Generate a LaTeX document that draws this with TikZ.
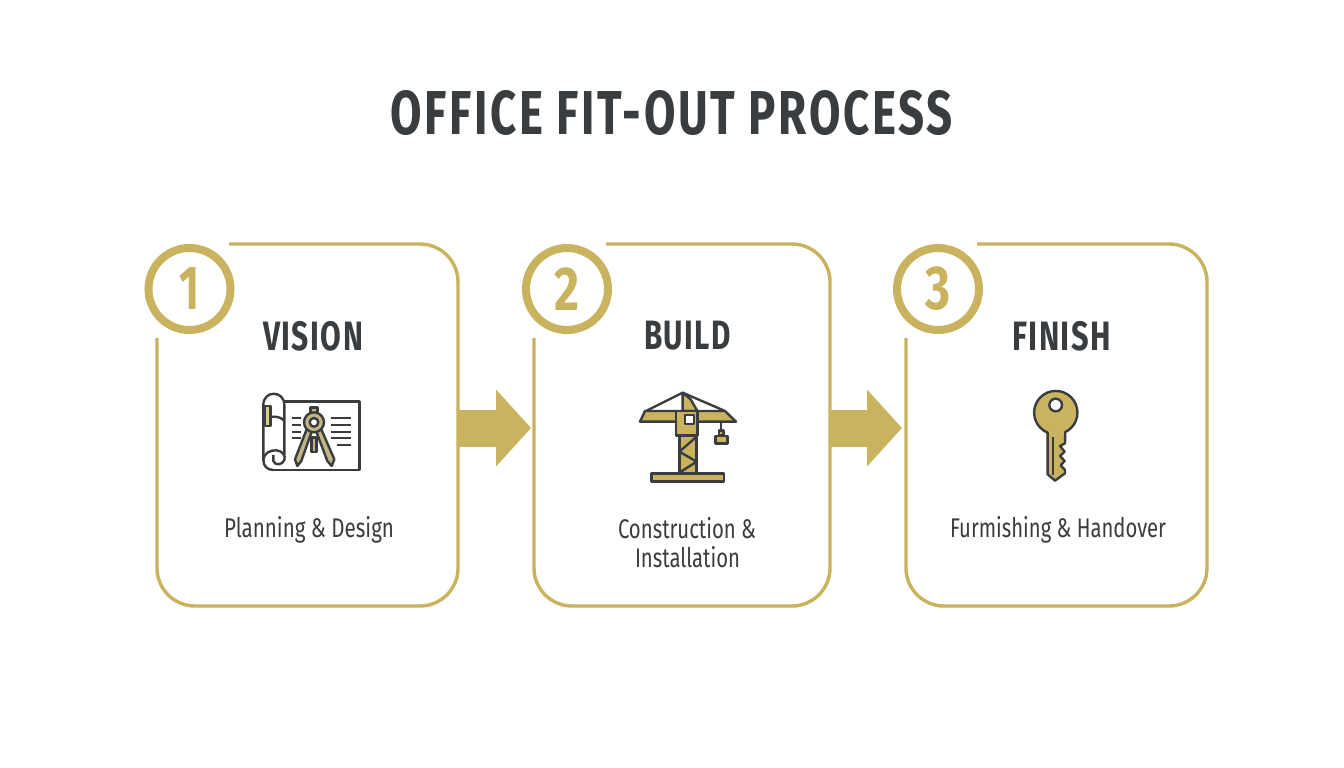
\documentclass[tikz,border=0pt]{standalone}
\usepackage{fontspec}
\usepackage{graphicx}
\usepackage{xcolor}
\setmainfont{Fira Sans}
\usetikzlibrary{arrows.meta}
\definecolor{gold}{HTML}{C9B35F}
\definecolor{ink}{HTML}{3A3D40}
\definecolor{pale}{HTML}{C2B584}
\definecolor{tape}{HTML}{D6CF7E}
\newcommand{\fitw}[2]{\resizebox{#1pt}{\height}{#2}}
\tikzset{
  cardline/.style={draw=gold,line width=3.4pt,line join=round},
  cardbox/.style={rectangle,inner sep=0pt,outer sep=0pt},
  ring/.style={circle,draw=gold,line width=8pt,fill=white,minimum size=82pt,inner sep=0pt,outer sep=0pt},
  numtxt/.style={font=\fontsize{62}{62}\selectfont\bfseries,text=gold,inner sep=0pt},
  headtxt/.style={font=\fontsize{41}{41}\selectfont\bfseries\addfontfeature{LetterSpace=5},text=ink,inner sep=0pt},
  subtxt/.style={font=\fontsize{27}{27}\selectfont,text=ink,inner sep=0pt},
  titletxt/.style={font=\fontsize{62}{62}\selectfont\bfseries\addfontfeature{LetterSpace=6},text=ink,inner sep=0pt},
  flow/.style={draw=gold,line width=37pt,-{Triangle[length=35pt,width=75pt]}},
  ic/.style={draw=ink,line width=2.4pt,line join=round},
  icthin/.style={draw=ink,line width=2pt,line cap=butt},
}
\begin{document}
\begin{tikzpicture}[x=1pt,y=-1pt]
\useasboundingbox (0,0) rectangle (1344,768);
\fill[white] (0,0) rectangle (1344,768);

\node[titletxt] (title) at (671.5,113) {\fitw{563}{OFFICE FIT-OUT PROCESS}};

% cards
\node[cardbox,minimum width=301pt,minimum height=362pt] (card1) at (307.5,425) {};
\node[cardbox,minimum width=296pt,minimum height=362pt] (card2) at (682,425) {};
\node[cardbox,minimum width=301pt,minimum height=362pt] (card3) at (1056.5,425) {};
\draw[cardline] (229,244) -- (420,244) arc[start angle=-90,end angle=0,radius=38] -- (458,568)
  arc[start angle=0,end angle=90,radius=38] -- (195,606) arc[start angle=90,end angle=180,radius=38] -- (157,338);
\draw[cardline] (606,244) -- (792,244) arc[start angle=-90,end angle=0,radius=38] -- (830,568)
  arc[start angle=0,end angle=90,radius=38] -- (572,606) arc[start angle=90,end angle=180,radius=38] -- (534,338);
\draw[cardline] (977,244) -- (1169,244) arc[start angle=-90,end angle=0,radius=38] -- (1207,568)
  arc[start angle=0,end angle=90,radius=38] -- (944,606) arc[start angle=90,end angle=180,radius=38] -- (906,338);

% rings
\node[ring] (r1) at (189.5,289) {};
\node[ring] (r2) at (567,289) {};
\node[ring] (r3) at (938,289) {};
\node[numtxt] (n1) at (r1) {\fitw{20}{1}};
\node[numtxt] (n2) at (r2) {\fitw{25}{2}};
\node[numtxt] (n3) at (r3) {\fitw{25}{3}};

% arrows
\draw[flow,shorten >=3pt] ([yshift=-3pt]card1.east) -- ([yshift=-3pt]card2.west);
\draw[flow,shorten >=4pt] ([yshift=-3pt]card2.east) -- ([yshift=-3pt]card3.west);

% headings
\node[headtxt] (h1) at (313,336) {\fitw{100}{VISION}};
\node[headtxt] (h2) at (687.5,336) {\fitw{87}{BUILD}};
\node[headtxt] (h3) at (1061.5,336) {\fitw{99}{FINISH}};

% sub labels
\node[subtxt] (s1) at (309,530) {\fitw{170}{Planning \& Design}};
\node[subtxt] (s2a) at (687,528) {\fitw{138}{Construction \&}};
\node[subtxt] (s2b) at (687.5,557) {\fitw{105}{Installation}};
\node[subtxt] (s3) at (1058,530) {\fitw{216}{Furmishing \& Handover}};

% icon 1: blueprint and compass
\begin{scope}[shift={(240,380)},x=0.3333pt,y=-0.3333pt]
  \draw[ic,fill=white] (133,65) -- (358,65) -- (358,270) -- (100,270);
  \draw[ic,fill=white] (70,240) -- (70,75) .. controls (70,30) and (133,30) .. (133,75) -- (133,225);
  \draw[ic] (70,240) .. controls (70,258) and (82,270) .. (100,270);
  \draw[ic] (70,240) .. controls (72,218) and (92,210) .. (110,211)
     .. controls (128,213) and (138,228) .. (133,240)
     .. controls (128,255) and (105,258) .. (100,243) -- (100,225);
  \draw[ic] (92,111) .. controls (108,108) and (125,112) .. (133,123);
  \draw[ic,fill=tape] (75,78) rectangle (92,138);
  \foreach \yy in {115,135,155,175} \draw[icthin] (157,\yy) -- (182,\yy);
  \foreach \yy in {115,135,155,175} \draw[icthin] (272,\yy) -- (332,\yy);
  \draw[icthin] (290,195) -- (332,195);
  \draw[ic,fill=pale] (212,82) rectangle (232,102);
  \draw[ic,fill=pale] (200,148) -- (165,238) -- (172,258) -- (184,243) -- (215,155) -- cycle;
  \draw[ic,fill=pale] (244,148) -- (283,238) -- (275,258) -- (262,243) -- (229,155) -- cycle;
  \draw[ic,fill=pale] (214,172) rectangle (230,216);
  \draw[ic,fill=pale] (222,127) circle[radius=30];
  \draw[ic,fill=white] (222,127) circle[radius=13];
\end{scope}

% icon 2: crane
\begin{scope}[shift={(620,380)},x=0.3333pt,y=-0.3333pt]
  \draw[ic] (188,38) -- (78,93);
  \draw[ic] (188,38) -- (315,93);
  \draw[ic,fill=gold] (188,38) -- (188,93) -- (232,93) -- (212,58) -- cycle;
  \draw[ic,fill=gold] (60,125) -- (75,93) -- (315,93) -- (348,125) -- cycle;
  \draw[ic,fill=gold] (178,165) rectangle (230,280);
  \draw[ic] (178,215) -- (230,170) (178,215) -- (230,245) -- (178,278);
  \draw[ic,fill=gold] (168,93) rectangle (233,167);
  \draw[ic,fill=white] (195,105) rectangle (222,132);
  \draw[ic] (303,125) -- (303,152);
  \draw[ic,fill=gold] (297,152) rectangle (311,165);
  \draw[ic,fill=gold] (286,168) rectangle (322,190);
  \draw[ic,fill=gold] (94,280) rectangle (312,305);
\end{scope}

% icon 3: key
\begin{scope}[shift={(1010,380)},x=0.3333pt,y=-0.3333pt]
  \draw[ic,fill=gold] (113,158)
     arc[start angle=112,end angle=424,radius=65]
     -- (165,190) -- (150,198) -- (164,215) -- (150,228) -- (164,243) -- (152,256) -- (165,270) -- (165,280) -- (135,302) -- (113,283) -- cycle;
  \draw[ic,fill=white] (137,75) circle[radius=19];
  \draw[icthin] (128,170) -- (128,285);
\end{scope}
\end{tikzpicture}
\end{document}
